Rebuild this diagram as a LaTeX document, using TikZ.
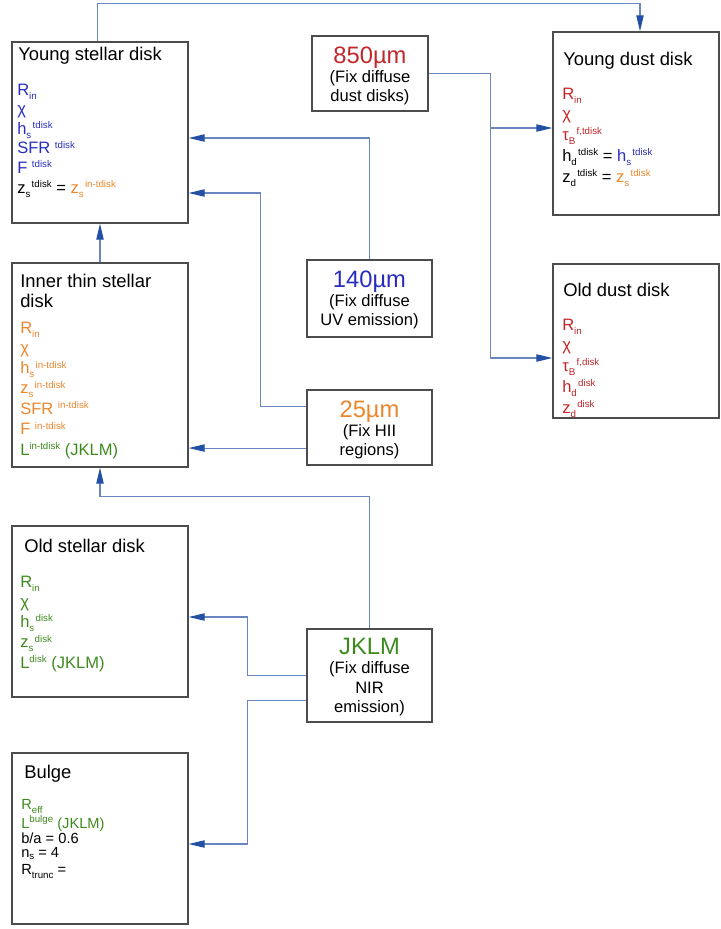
\documentclass[tikz,border=0pt]{standalone}
\usepackage{fontspec}
\setmainfont{Liberation Sans}
\usepackage{tikz}
\usetikzlibrary{arrows.meta,fit}

\definecolor{pblue}{RGB}{40,45,190}
\definecolor{porange}{RGB}{236,134,44}
\definecolor{pred}{RGB}{192,38,42}
\definecolor{pgreen}{RGB}{62,138,30}
\definecolor{linkc}{RGB}{105,135,190}
\definecolor{tipc}{RGB}{35,80,165}

\newcommand{\sml}{\fontsize{7.3}{8}\selectfont}
\newcommand{\pb}[2]{#1\raisebox{-3pt}{\sml #2}}
\newcommand{\pup}[2]{#1\raisebox{4.2pt}{\sml #2}}
\newcommand{\ps}[3]{#1\raisebox{-3pt}{\sml #2}\kern1pt\raisebox{4.2pt}{\sml #3}}

\begin{document}
\begin{tikzpicture}[x=0.75pt,y=-0.75pt,
  box/.style={draw=black!70,line width=1pt,inner sep=0pt},
  srcbox/.style={draw=black!70,line width=0.9pt,inner sep=0pt},
  ttl/.style={anchor=base west,inner sep=0pt,font=\fontsize{13.8}{15}\selectfont},
  pline/.style={anchor=base west,inner sep=0pt,font=\fontsize{12.4}{14}\selectfont},
  bline/.style={anchor=base west,inner sep=0pt,font=\fontsize{11}{12}\selectfont},
  srctxt/.style={align=center,inner sep=0pt,font=\fontsize{12.4}{14.5}\selectfont},
  link/.style={draw=linkc,line width=0.8pt},
  arr/.style={link,-{Triangle[length=12pt,width=5.5pt,color=tipc]}}]
\useasboundingbox (0,0) rectangle (721,929);

% model components
\node[box,fit={(12,42) (188,223)}] (ysd) {};
\node[box,fit={(553,32) (719,215)}] (ydd) {};
\node[box,fit={(553,264) (719,418)}] (odd) {};
\node[box,fit={(12,263) (188,467)}] (itd) {};
\node[box,fit={(12,526) (188,697)}] (osd) {};
\node[box,fit={(12,753) (188,924)}] (blg) {};

\node[ttl] (ysd-t) at (18,60) {Young stellar disk};
\node[ttl] (ydd-t) at (563,65) {Young dust disk};
\node[ttl] (odd-t) at (563,296) {Old dust disk};
\node[ttl] (itd-t) at (20,287) {Inner thin stellar};
\node[ttl] (itd-t2) at (20,307) {disk};
\node[ttl] (osd-t) at (24,552) {Old stellar disk};
\node[ttl] (blg-t) at (24,778) {Bulge};

\foreach \t [count=\i] in {{\pb{R}{in}},{χ},{\ps{h}{s}{tdisk}},{\pup{SFR\ }{tdisk}},{\pup{F\ }{tdisk}}}
  \node[pline,pblue] (ysd-\i) at (17,{95+19.6*(\i-1)}) {\t};
\node[pline] (ysd-6) at (17,193) {\ps{z}{s}{tdisk} = \textcolor{porange}{\ps{z}{s}{in-tdisk}}};

\foreach \t [count=\i] in {{\pb{R}{in}},{χ},{\ps{τ}{B}{f,tdisk}}}
  \node[pline,pred] (ydd-\i) at (562,{99+20.75*(\i-1)}) {\t};
\node[pline] (ydd-4) at (562,161) {\ps{h}{d}{tdisk} = \textcolor{pblue}{\ps{h}{s}{tdisk}}};
\node[pline] (ydd-5) at (562,182) {\ps{z}{d}{tdisk} = \textcolor{porange}{\ps{z}{s}{tdisk}}};

\foreach \t [count=\i] in {{\pb{R}{in}},{χ},{\ps{τ}{B}{f,disk}},{\ps{h}{d}{disk}},{\ps{z}{d}{disk}}}
  \node[pline,pred] (odd-\i) at (562,{330+20.75*(\i-1)}) {\t};

\foreach \t [count=\i] in {{\pb{R}{in}},{χ},{\ps{h}{s}{in-tdisk}},{\ps{z}{s}{in-tdisk}},{\pup{SFR\ }{in-tdisk}},{\pup{F\ }{in-tdisk}}}
  \node[pline,porange] (itd-\i) at (20,{333+20.33*(\i-1)}) {\t};
\node[pline,pgreen] (itd-7) at (20,455) {\pup{L}{in-tdisk} (JKLM)};

\foreach \t [count=\i] in {{\pb{R}{in}},{χ},{\ps{h}{s}{disk}},{\ps{z}{s}{disk}},{\pup{L}{disk} (JKLM)}}
  \node[pline,pgreen] (osd-\i) at (20,{587+20.25*(\i-1)}) {\t};

\node[bline,pgreen] (blg-1) at (21,809) {\pb{R}{eff}};
\node[bline,pgreen] (blg-2) at (21,828) {\pup{L}{bulge} (JKLM)};
\node[bline] (blg-3) at (21,843) {b/a = 0.6};
\node[bline] (blg-4) at (21,857) {n\raisebox{-2.2pt}{\sml s} = 4};
\node[bline] (blg-5) at (21,874) {\pb{R}{trunc} =};

% observed bands
\node[srcbox,fit={(312,36) (428,111)}] (s850) {};
\node[srcbox,fit={(307,260) (432,337)}] (s140) {};
\node[srcbox,fit={(307,390) (432,465)}] (s25) {};
\node[srcbox,fit={(307,629) (432,722)}] (jklm) {};

\node[srctxt] (s850-t) at (370,76) {\textcolor{pred}{\fontsize{17.8}{20}\selectfont 850µm}\\(Fix diffuse\\dust disks)};
\node[srctxt] (s140-t) at (369.5,300) {\textcolor{pblue}{\fontsize{17.8}{20}\selectfont 140µm}\\(Fix diffuse\\UV emission)};
\node[srctxt] (s25-t) at (369.5,430) {\textcolor{porange}{\fontsize{17.8}{20}\selectfont 25µm}\\(Fix HII\\regions)};
\node[srctxt] (jklm-t) at (369.5,677) {\textcolor{pgreen}{\fontsize{17.8}{20}\selectfont JKLM}\\(Fix diffuse\\NIR\\emission)};

\coordinate (s25-a) at ([yshift=16pt]s25.west);
\coordinate (s25-b) at ([yshift=-15.4pt]s25.west);
\coordinate (jklm-b) at ([yshift=-18.4pt]jklm.west);

\draw[arr] ([xshift=-2pt]ysd.north) -- ++(0,-38) -| ([xshift=3pt]ydd.north);
\draw[arr] (s850.east) -- ++(62,0) |- (ydd.west |- 0,128);
\draw[arr] (s850.east) -- ++(62,0) |- (odd.west |- 0,358);
\draw[arr] (s140.north) |- (ysd.east |- 0,138);
\draw[arr] (s25-a) -- ++(-46,0) |- (ysd.east |- 0,193);
\draw[arr] (s25-b) -- (s25-b -| itd.east);
\draw[arr] (itd.north) -- (ysd.south);
\draw[arr] (jklm.north) -- ++(0,-132) -| (itd.south);
\draw[arr] (jklm.west) -- ++(-59,0) |- (osd.east |- 0,617);
\draw[arr] (jklm-b) -- ++(-59,0) |- (blg.east |- 0,844);
\end{tikzpicture}
\end{document}
